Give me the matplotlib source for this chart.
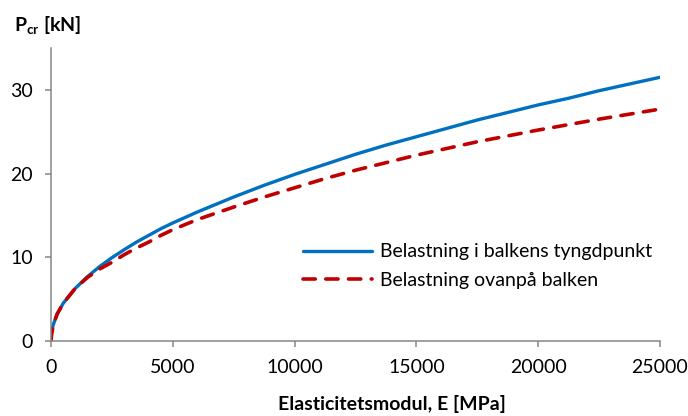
import matplotlib
matplotlib.use('Agg')
import matplotlib.pyplot as plt

# E-modulus [MPa] and critical load [kN]
E = [0, 25, 100, 250, 500, 1000, 1500, 2000, 2500, 3000, 3500, 4000, 4500, 5000,
     6000, 7500, 8750, 10000, 11250, 12500, 13750, 15000, 16250, 17500, 18750,
     20000, 21250, 22500, 23750, 25000]
p_tyngdpunkt = [0, 1.2, 2.0, 3.2, 4.5, 6.3, 7.7, 8.9, 9.95, 10.9, 11.8, 12.6, 13.4, 14.1,
                15.4, 17.2, 18.6, 19.9, 21.1, 22.3, 23.4, 24.4, 25.4, 26.4, 27.3,
                28.2, 29.0, 29.9, 30.7, 31.5]
p_ovanpa = [0, 0.8, 2.0, 3.2, 4.5, 6.3, 7.6, 8.6, 9.4, 10.3, 11.1, 11.8, 12.6, 13.3,
            14.5, 16.0, 17.2, 18.3, 19.4, 20.4, 21.3, 22.2, 23.0, 23.8, 24.5,
            25.2, 25.85, 26.5, 27.1, 27.7]

label_blue = 'Belastning i balkens tyngdpunkt'
label_red = 'Belastning ovanpå balken'
xticks = [0, 5000, 10000, 15000, 20000, 25000]
yticks = [0, 10, 20, 30]

plt.rcParams['font.family'] = ['Lato', 'DejaVu Sans']
plt.rcParams['mathtext.fontset'] = 'custom'
plt.rcParams['mathtext.rm'] = 'Lato:bold'
plt.rcParams['mathtext.bf'] = 'Lato:bold'

fs = 14

fig = plt.figure(figsize=(6.88, 4.16), dpi=100)
ax = fig.add_axes([51/688, 1 - 341/416, (660 - 51)/688, (341 - 48)/416])

ax.plot(E, p_tyngdpunkt, color='#0070C0', lw=2.4, label=label_blue,
        solid_capstyle='round', solid_joinstyle='round')
ax.plot(E, p_ovanpa, color='#C00000', lw=2.6, dashes=(3.4, 2.9),
        dash_capstyle='round', label=label_red)

ax.set_xlim(0, 25000)
ax.set_ylim(0, 35)
ax.set_xticks(xticks)
ax.set_yticks(yticks)

axis_grey = '#868686'
for side in ['top', 'right']:
    ax.spines[side].set_visible(False)
for side in ['left', 'bottom']:
    ax.spines[side].set_color(axis_grey)
    ax.spines[side].set_linewidth(1.1)
ax.tick_params(axis='both', direction='out', length=4, width=1.1, color=axis_grey,
               labelsize=fs, labelcolor='black')
ax.tick_params(axis='x', pad=9)
ax.tick_params(axis='y', pad=9)

leg = ax.legend(loc='center left', bbox_to_anchor=(0.414, 0.256), frameon=False,
                fontsize=fs, handlelength=3.55, handletextpad=0.4,
                labelspacing=0.58, borderaxespad=0, borderpad=0)

fig.text(392/688, 1 - 404/416, 'Elasticitetsmodul, E [MPa]', ha='center', va='center',
         fontsize=fs, fontweight='bold')
fig.text(14/688, 1 - 26/416, r'$\mathbf{P}_{\mathbf{cr}}$ [kN]', ha='left', va='center',
         fontsize=fs, fontweight='bold')

fig.savefig('out.png', dpi=100)
